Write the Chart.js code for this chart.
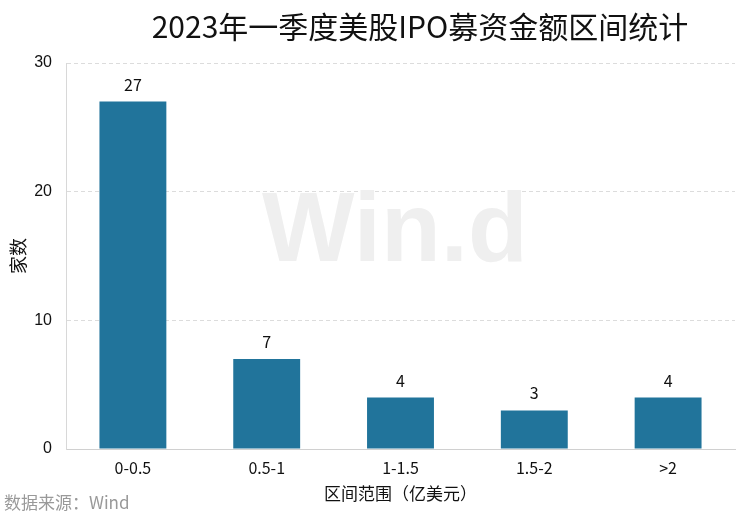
<!DOCTYPE html>
<html>
<head>
<meta charset="utf-8">
<script src="https://cdn.jsdelivr.net/npm/chart.js@4/dist/chart.umd.min.js"></script>
<style>
  html, body { margin: 0; padding: 0; background: #fff; }
  #wrap { width: 742px; height: 522px; position: relative; }
</style>
</head>
<body>
<div id="wrap"><canvas id="c" width="742" height="522"></canvas></div>
<script>
const categories = ["0-0.5", "0.5-1", "1-1.5", "1.5-2", ">2"];
const counts = [27, 7, 4, 3, 4];
const yTicks = [0, 10, 20, 30];

const titleText = "2023年一季度美股IPO募资金额区间统计";
const xTitle = "区间范围（亿美元）";
const yTitle = "家数";
const sourceText = "数据来源：Wind";
const cjk = "'Noto Sans CJK SC', 'Noto Sans', sans-serif";

// extra texts: title, axis titles, source, watermark, value labels
const decor = {
  id: "decor",
  beforeDatasetsDraw(chart) {
    const ctx = chart.ctx;
    ctx.save();
    ctx.fillStyle = "#efefef";
    ctx.font = "bold 98px 'Liberation Sans', Arial, sans-serif";
    ctx.textAlign = "center";
    ctx.textBaseline = "middle";
    ctx.fillText("Win.d", 395, 234);
    ctx.restore();
  },
  afterDraw(chart) {
    const ctx = chart.ctx;
    const area = chart.chartArea;
    ctx.save();
    ctx.fillStyle = "#111";
    ctx.textAlign = "center";
    ctx.textBaseline = "middle";
    ctx.font = "30px " + cjk;
    ctx.fillText(titleText, 420, 27);

    ctx.font = "17px " + cjk;
    ctx.fillText(xTitle, (area.left + area.right) / 2, 494);

    ctx.save();
    ctx.translate(18, 256);
    ctx.rotate(-Math.PI / 2);
    ctx.font = "18px " + cjk;
    ctx.fillText(yTitle, 0, 0);
    ctx.restore();

    ctx.textAlign = "left";
    ctx.fillStyle = "#999";
    ctx.font = "17px " + cjk;
    ctx.fillText(sourceText, 4, 503);

    // value labels
    ctx.fillStyle = "#111";
    ctx.textAlign = "center";
    ctx.textBaseline = "bottom";
    ctx.font = "16px " + cjk;
    const meta = chart.getDatasetMeta(0);
    meta.data.forEach((bar, i) => {
      ctx.fillText(String(counts[i]), bar.x, bar.y - 9);
    });
    ctx.restore();
  }
};

new Chart(document.getElementById("c"), {
  type: "bar",
  data: {
    labels: categories,
    datasets: [{
      data: counts,
      backgroundColor: "#21749b",
      barPercentage: 0.5,
      categoryPercentage: 1.0
    }]
  },
  options: {
    responsive: false,
    animation: false,
    layout: { padding: { left: 0, right: 7, top: 63, bottom: 0 } },
    plugins: {
      legend: { display: false },
      tooltip: { enabled: false }
    },
    scales: {
      x: {
        afterFit(scale) { scale.height = 73; },
        grid: { display: false, drawTicks: false },
        border: { color: "#d0d0d0" },
        ticks: {
          padding: 9,
          color: "#111",
          font: { size: 16, family: cjk }
        }
      },
      y: {
        min: 0,
        max: 30,
        afterFit(scale) { scale.width = 66; },
        afterBuildTicks(scale) { scale.ticks = yTicks.map(v => ({ value: v })); },
        grid: {
          color: "#dcdcdc",
          drawTicks: false
        },
        border: { color: "#d8d8d8", dash: [4, 3] },
        ticks: {
          padding: 14,
          color: "#111",
          font: { size: 16, family: "'Liberation Sans', Arial, sans-serif" }
        }
      }
    }
  },
  plugins: [decor]
});
</script>
</body>
</html>
